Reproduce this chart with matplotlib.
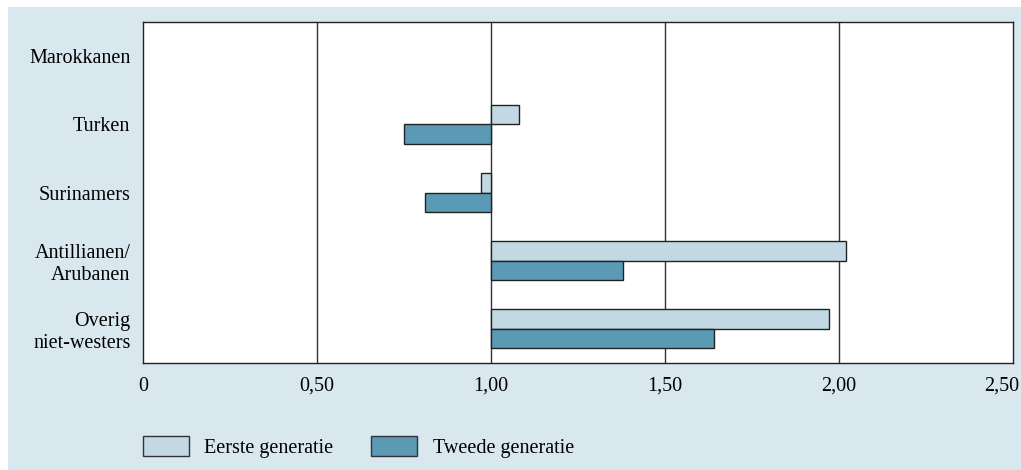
import numpy as np
import matplotlib.pyplot as plt
import matplotlib.transforms as mtransforms
from matplotlib.patches import Patch, Rectangle

groups = ['Marokkanen', 'Turken', 'Surinamers', 'Antillianen/\nArubanen', 'Overig\nniet-westers']
eerste = [np.nan, 1.08, 0.97, 2.02, 1.97]
tweede = [np.nan, 0.75, 0.81, 1.38, 1.64]
xticks = [0, 0.5, 1.0, 1.5, 2.0, 2.5]
xticklabels = ['0', '0,50', '1,00', '1,50', '2,00', '2,50']

c_eerste = '#c2d9e4'
c_tweede = '#5a9ab5'
bg = '#d9e7ef'
fs = 14.5

plt.rcParams['font.family'] = ['Liberation Serif', 'DejaVu Serif']

fig = plt.figure(figsize=(10.21, 4.70), dpi=100)
fig.patch.set_facecolor('white')
fig.patches.append(Rectangle((8/1021, 0), 1 - 8/1021, 1 - 7/470, transform=fig.transFigure,
                             facecolor=bg, edgecolor='none', zorder=-10))

ax = fig.add_axes([143/1021, 107/470, 870/1021, 341/470])
ax.set_facecolor('white')

base = 1.0
y = np.arange(len(groups)) + 0.5
h = 0.286
e = np.array(eerste) - base
t = np.array(tweede) - base
ax.barh(y - h/2, e, height=h, left=base, color=c_eerste, edgecolor='#222222', linewidth=1, zorder=3)
ax.barh(y + h/2, t, height=h, left=base, color=c_tweede, edgecolor='#222222', linewidth=1, zorder=3)

ax.set_xlim(0, 2.5)
ax.set_ylim(len(groups), 0)
ax.set_xticks(xticks)
ax.set_xticklabels(xticklabels)
ax.set_yticks(y)
ax.set_yticklabels(groups, ha='right', multialignment='right')
ax.tick_params(axis='y', length=0, pad=9, labelsize=fs)
ax.tick_params(axis='x', length=0, pad=10, labelsize=fs)
# last tick label sits a bit left so it stays inside the picture
last = ax.get_xticklabels()[-1]
last.set_ha('right')
last.set_transform(last.get_transform() + mtransforms.ScaledTranslation(6/100, 0, fig.dpi_scale_trans))
for v in [0.5, 1.0, 1.5, 2.0]:
    ax.axvline(v, color='#333333', linewidth=1, zorder=1)
for s in ax.spines.values():
    s.set_color('#222222')
    s.set_linewidth(1)

handles = [Patch(facecolor=c_eerste, edgecolor='#333333', linewidth=1, label='Eerste generatie'),
           Patch(facecolor=c_tweede, edgecolor='#333333', linewidth=1, label='Tweede generatie')]
fig.legend(handles=handles, loc='center left', bbox_to_anchor=(125/1021, 1 - 447/470), ncol=2,
           frameon=False, fontsize=fs, handlelength=2.29, handleheight=1.14,
           handletextpad=0.75, columnspacing=1.88)

fig.savefig('out.png', dpi=100, facecolor=fig.get_facecolor())
